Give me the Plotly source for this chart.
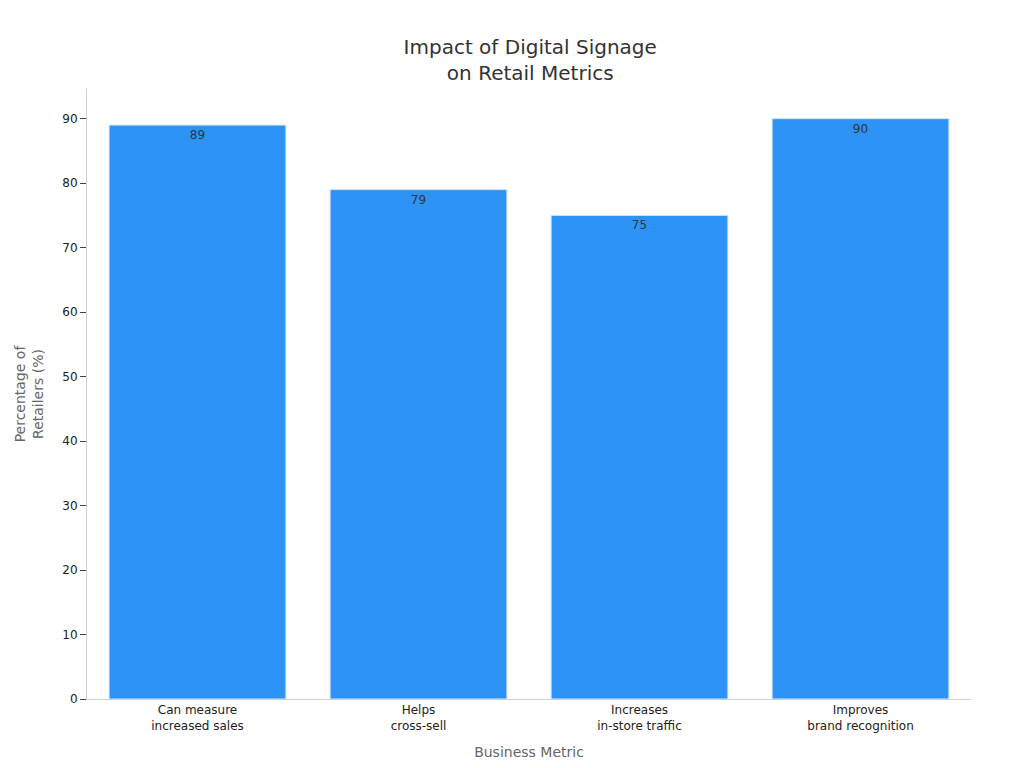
import plotly.graph_objects as go

categories = ["Can measure<br>increased sales", "Helps<br>cross-sell", "Increases<br>in-store traffic", "Improves<br>brand recognition"]
values = [89, 79, 75, 90]

fig = go.Figure(go.Bar(
    x=categories, y=values, text=values, textposition="inside",
    insidetextanchor="end", textfont=dict(color="#333333", size=12),
    marker=dict(color="#2E93F7", line=dict(color="#D0E4FA", width=1)),
))
fig.update_layout(
    width=1024, height=768,
    font=dict(family="DejaVu Sans", color="#222222", size=12),
    title=dict(text="Impact of Digital Signage<br>on Retail Metrics", x=0.51, xanchor="center", y=0.94, yanchor="middle",
               font=dict(size=20, color="#333333")),
    plot_bgcolor="white", paper_bgcolor="white",
    margin=dict(l=79, r=61, t=81, b=77),
    bargap=0.2, showlegend=False,
    xaxis=dict(title=dict(text="Business Metric", font=dict(size=14, color="#666666")),
               showline=True, linecolor="#D0D0D0", ticks="", showgrid=False),
    yaxis=dict(title=dict(text="Percentage of<br>Retailers (%)", font=dict(size=14, color="#666666")),
               range=[0, 94.6], dtick=10, showline=True, linecolor="#D0D0D0",
               ticks="outside", ticklen=6, tickcolor="#444444", showgrid=False, zeroline=False),
)
fig.write_html("out.html")
